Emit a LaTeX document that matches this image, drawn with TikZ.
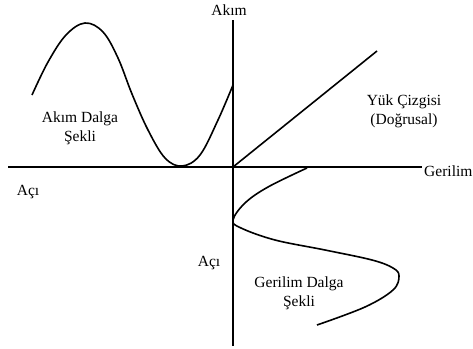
\documentclass[tikz,border=0pt]{standalone}
\usepackage{fontspec}
\setmainfont{Liberation Serif}
\begin{document}
\begin{tikzpicture}[x=1pt,y=-1pt,
  axis/.style={line width=1.8pt},
  wave/.style={line width=1.6pt, line join=round},
  lbl/.style={inner sep=0pt, font=\fontsize{15.5}{19}\selectfont, align=center}]
\useasboundingbox (0,0) rectangle (473,348);
% axes
\coordinate (vtop) at (233,20);
\coordinate (vbot) at (233,346);
\coordinate (hl) at (8,167);
\coordinate (hr) at (422,167);
\coordinate (o) at (233,167);
\coordinate (lend) at (377,51);
\draw[axis] (vtop) -- (vbot);
\draw[axis] (hl) -- (hr);
% load line
\draw[wave] (o) -- (lend);
% current waveform
\draw[wave] plot[smooth, tension=0.6] coordinates {(32,95) (48,62) (66,35) (85,23) (103,32) (118,58) (132,94) (148,130) (165,158) (182,166) (200,155) (218,120) (233,85)};
% voltage waveform
\draw[wave] plot[smooth, tension=0.6] coordinates {(307,168) (268,187) (245,203) (233,220) (241,228) (275,240) (325,250) (372,260) (393,268) (399,276) (393,290) (365,307) (317,325)};
% labels
\node[lbl, anchor=base] (akim) at (229,15) {Akım};
\node[lbl, anchor=base west] (gerilim) at (424,176) {Gerilim};
\node[lbl, anchor=base] (aci1) at (28,195) {Açı};
\node[lbl, anchor=base] (aci2) at (209,266) {Açı};
\node[lbl, anchor=north] (akimd) at (80,111.5) {Akım Dalga\\Şekli};
\node[lbl, anchor=north] (yuk) at (404,94.5) {Yük Çizgisi\\(Doğrusal)};
\node[lbl, anchor=north] (gerd) at (299,276.5) {Gerilim Dalga\\Şekli};
\end{tikzpicture}
\end{document}
